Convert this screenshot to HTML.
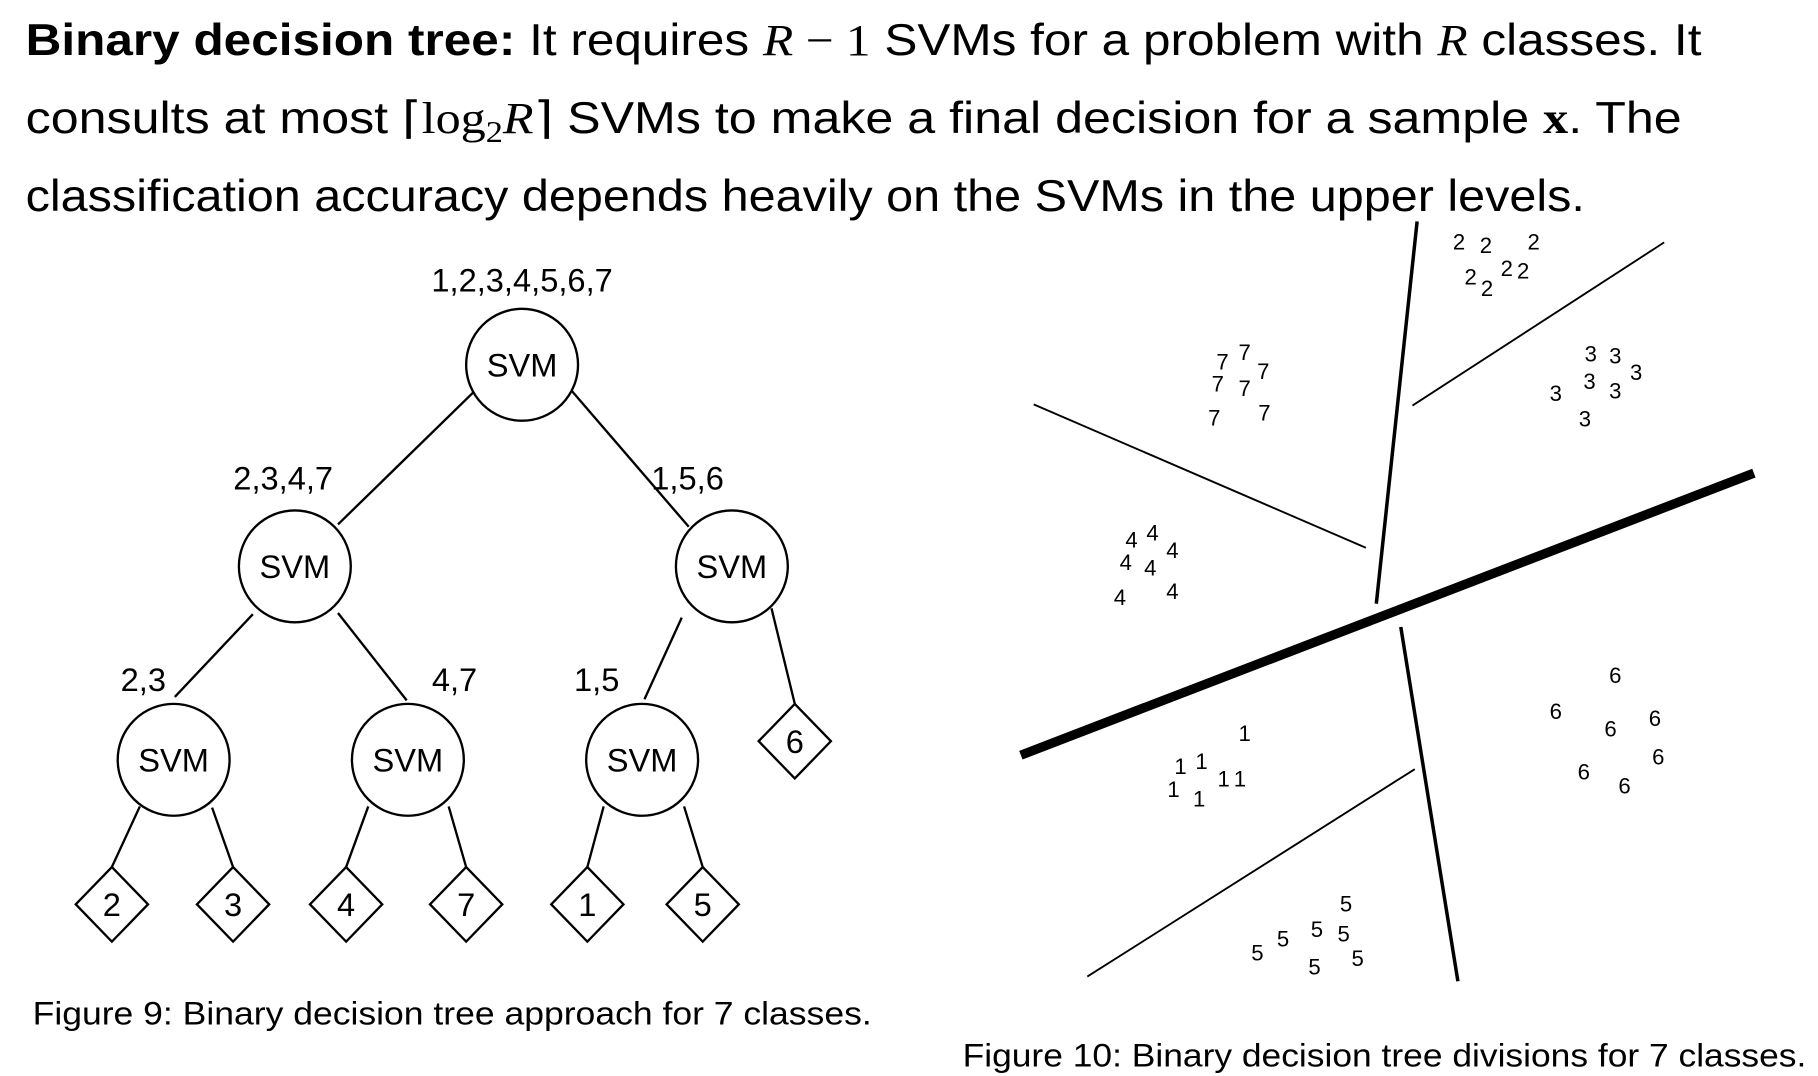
<!DOCTYPE html>
<html><head><meta charset="utf-8"><style>
html,body{margin:0;padding:0;background:#fff;}
svg{display:block;}
text{font-family:"Liberation Sans",sans-serif;fill:#000;}
</style></head><body>
<svg width="1818" height="1076" viewBox="0 0 1560 923.3" xmlns="http://www.w3.org/2000/svg">
<g font-size="38">
<text x="22" y="47" textLength="1438" lengthAdjust="spacingAndGlyphs"><tspan font-weight="bold">Binary decision tree:</tspan> It requires <tspan font-family="Liberation Serif" font-style="italic">R</tspan><tspan font-family="Liberation Serif"> − 1</tspan> SVMs for a problem with <tspan font-family="Liberation Serif" font-style="italic">R</tspan> classes. It</text>
<text x="22" y="114" textLength="1421" lengthAdjust="spacingAndGlyphs">consults at most <tspan font-family="Liberation Serif">⌈log<tspan font-size="26" dy="8">2</tspan><tspan dy="-8" font-style="italic">R</tspan>⌉</tspan> SVMs to make a final decision for a sample <tspan font-family="Liberation Serif" font-weight="bold">x</tspan>. The</text>
<text x="22" y="181" textLength="1338" lengthAdjust="spacingAndGlyphs">classification accuracy depends heavily on the SVMs in the upper levels.</text>
</g>
<g stroke="#000" stroke-width="2" fill="none">
<line x1="413" y1="330" x2="290" y2="450"/>
<line x1="486" y1="330" x2="591" y2="452"/>
<line x1="217" y1="527" x2="150" y2="598"/>
<line x1="290" y1="526" x2="349" y2="601"/>
<line x1="585" y1="530" x2="553" y2="600"/>
<line x1="662" y1="522" x2="682" y2="604"/>
<line x1="120" y1="692" x2="96" y2="744"/>
<line x1="182" y1="693" x2="200" y2="744"/>
<line x1="316" y1="692" x2="297" y2="744"/>
<line x1="385" y1="692" x2="400" y2="744"/>
<line x1="518" y1="692" x2="504" y2="744"/>
<line x1="587" y1="692" x2="603" y2="744"/>
</g>
<g stroke="#000" stroke-width="2" fill="#fff">
<circle cx="448" cy="313" r="48"/>
<circle cx="253" cy="486" r="48"/>
<circle cx="628" cy="486" r="48"/>
<circle cx="149" cy="652" r="48"/>
<circle cx="350" cy="652" r="48"/>
<circle cx="551" cy="652" r="48"/>
<polygon points="682,604 713,636 682,668 651,636"/>
<polygon points="96,744 127,776 96,808 65,776"/>
<polygon points="200,744 231,776 200,808 169,776"/>
<polygon points="297,744 328,776 297,808 266,776"/>
<polygon points="400,744 431,776 400,808 369,776"/>
<polygon points="504,744 535,776 504,808 473,776"/>
<polygon points="603,744 634,776 603,808 572,776"/>
</g>
<g font-size="28" text-anchor="middle">
<text x="448" y="323">SVM</text><text x="253" y="496">SVM</text><text x="628" y="496">SVM</text>
<text x="149" y="662">SVM</text><text x="350" y="662">SVM</text><text x="551" y="662">SVM</text>
<text x="682" y="646">6</text><text x="96" y="786">2</text><text x="200" y="786">3</text><text x="297" y="786">4</text><text x="400" y="786">7</text><text x="504" y="786">1</text><text x="603" y="786">5</text>
<text x="448" y="250">1,2,3,4,5,6,7</text>
<text x="243" y="420">2,3,4,7</text><text x="590" y="420">1,5,6</text>
<text x="123" y="593">2,3</text><text x="390" y="593">4,7</text><text x="512" y="593">1,5</text>
</g>
<text x="28" y="879" font-size="28" textLength="720" lengthAdjust="spacingAndGlyphs">Figure 9: Binary decision tree approach for 7 classes.</text>
<text x="826" y="915" font-size="28" textLength="724" lengthAdjust="spacingAndGlyphs">Figure 10: Binary decision tree divisions for 7 classes.</text>
<g transform="translate(-5,0)">
<g stroke="#000" fill="none">
<line x1="881" y1="648" x2="1510" y2="406" stroke-width="8"/>
<line x1="1221" y1="190" x2="1186" y2="518" stroke-width="3"/>
<line x1="1207" y1="538" x2="1256" y2="842" stroke-width="3"/>
<line x1="892" y1="347" x2="1177" y2="470" stroke-width="1.6"/>
<line x1="1217" y1="348" x2="1433" y2="208" stroke-width="1.6"/>
<line x1="938" y1="838" x2="1219" y2="660" stroke-width="1.6"/>
</g>
<g font-size="19" text-anchor="middle">
<text x="1257" y="214">2</text><text x="1280" y="217">2</text><text x="1321" y="214">2</text><text x="1267" y="244">2</text><text x="1281" y="254">2</text><text x="1298" y="237">2</text><text x="1312" y="239">2</text>
<text x="1054" y="317">7</text><text x="1073" y="309">7</text><text x="1089" y="325">7</text><text x="1050" y="336">7</text><text x="1073" y="340">7</text><text x="1047" y="365">7</text><text x="1090" y="361">7</text>
<text x="1370" y="310">3</text><text x="1391" y="312">3</text><text x="1409" y="326">3</text><text x="1340" y="344">3</text><text x="1369" y="334">3</text><text x="1391" y="342">3</text><text x="1365" y="366">3</text>
<text x="976" y="470">4</text><text x="994" y="464">4</text><text x="1011" y="479">4</text><text x="971" y="489">4</text><text x="992" y="494">4</text><text x="966" y="519">4</text><text x="1011" y="514">4</text>
<text x="1073" y="636">1</text><text x="1018" y="664">1</text><text x="1036" y="660">1</text><text x="1055" y="675">1</text><text x="1069" y="675">1</text><text x="1012" y="684">1</text><text x="1034" y="692">1</text>
<text x="1391" y="586">6</text><text x="1340" y="617">6</text><text x="1387" y="632">6</text><text x="1425" y="623">6</text><text x="1428" y="656">6</text><text x="1364" y="669">6</text><text x="1399" y="681">6</text>
<text x="1160" y="782">5</text><text x="1084" y="824">5</text><text x="1106" y="812">5</text><text x="1135" y="804">5</text><text x="1158" y="808">5</text><text x="1133" y="836">5</text><text x="1170" y="829">5</text>
</g>
</g>
</svg>
</body></html>
